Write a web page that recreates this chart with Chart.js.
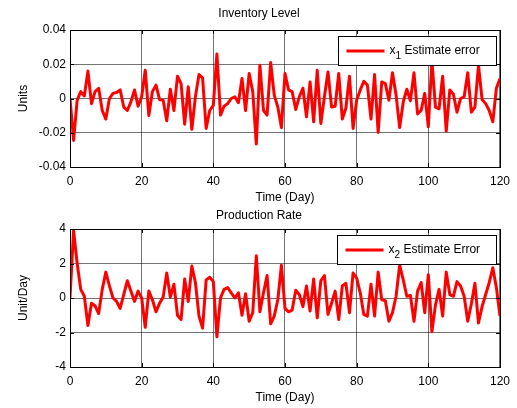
<!DOCTYPE html>
<html>
<head>
<meta charset="utf-8">
<script src="https://cdn.jsdelivr.net/npm/chart.js@4.4.1/dist/chart.umd.min.js"></script>
<style>
  html, body { margin: 0; padding: 0; background: #fff; }
  .panel { position: absolute; left: 0; width: 517px; }
  #top { top: 0; height: 205px; }
  #bottom { top: 199px; height: 209px; }
</style>
</head>
<body>
<div class="panel" id="top"><canvas id="invChart" width="517" height="205"></canvas></div>
<div class="panel" id="bottom"><canvas id="prodChart" width="517" height="209"></canvas></div>
<script>
// Days 0..120
const days = Array.from({ length: 121 }, (_, i) => i);

// x1 estimate error (inventory, units)
const invError = [
  0, -0.0245, -0.001, 0.004, 0.0015, 0.016, -0.003, 0.004, 0.006, -0.007,
  -0.012, 0, 0.003, 0.0035, 0.005, -0.005, -0.007, -0.002, 0.005, -0.0045,
  0.001, 0.0165, -0.010, 0.004, 0.0078, -0.0006, -0.001, -0.013, 0.0054, -0.007,
  0.013, 0.0087, -0.015, 0.0068, -0.018, 0.001, 0.014, 0.012, -0.0175, -0.007,
  -0.004, 0.026, -0.0097, -0.0045, -0.003, 0, 0.001, -0.0025, 0.0117, -0.007,
  0.0146, 0.004, -0.0266, 0.0194, -0.007, -0.0097, 0.021, 0.002, -0.005, -0.017,
  0.0146, 0.005, 0.004, -0.0064, 0.001, 0.006, -0.0107, 0.0097, -0.0136, 0.0165,
  -0.0146, 0.001, 0.0155, -0.005, -0.0045, 0.0146, -0.012, -0.0055, 0.013, -0.0175,
  -0.001, 0.005, 0.010, 0.0078, -0.012, 0.014, -0.0198, 0.0097, 0.0087, -0.001,
  0.015, 0.002, -0.017, -0.002, 0.0054, -0.0014, 0.015, -0.009, -0.007, 0.003,
  -0.0165, 0.022, -0.005, -0.006, 0.013, -0.019, 0.005, 0.0025, -0.008, 0,
  0.001, 0.015, -0.008, -0.005, 0.0194, -0.0006, -0.003, -0.007, -0.0136, 0.006,
  0.0117
];

// x2 estimate error (production rate, unit/day)
const prodError = [
  0, 3.9, 2.0, 0.5, 0.1, -1.6, -0.3, -0.45, -0.9, 0.5,
  1.5, 0.7, 0, -0.2, -0.6, 0.2, 1.0, 0.4, -0.2, 0.4,
  0, -1.7, 0.4, -0.1, -0.8, -0.3, 0.05, 1.45, 0.05, 0.8,
  -1.0, -1.25, 1.1, -0.2, 1.85, 0.9, -1.05, -1.75, 1.05, 1.2,
  0.95, -2.25, 0, 0.5, 0.6, 0.3, 0, 0.3, -1.0, 0.25,
  -1.35, -0.85, 2.45, -0.8, 0.3, 1.3, -1.5, -1.05, -0.1, 1.9,
  -0.6, -0.8, -0.7, 0.45, 0.2, -0.5, 0.7, -0.75, 1.1, -1.15,
  1.0, 1.3, -0.95, -0.3, 0.4, -1.25, 0.7, 0.85, -0.85, 1.45,
  1.15, 0.3, -0.95, -1.05, 0.8, -1.05, 1.5, -0.1, -0.15, -1.35,
  -0.85, 0.1, 1.9, 1.05, 0.1, 0.15, -1.35, 0.4, 0.9, -0.85,
  1.35, -1.95, -0.4, 0.5, -1.05, 1.5, 0.2, 0.1, 0.95, 0.7,
  0.1, -1.35, -0.35, 0.85, -1.45, -0.5, 0.2, 0.9, 1.75, 0.6,
  -1.05
];

const xTicks = [0, 20, 40, 60, 80, 100, 120];
const FONT = 'Arial, "Liberation Sans", Helvetica, sans-serif';

// box around the axes + legend inside the top-right corner
const boxPlugin = {
  id: 'boxLegend',
  afterDraw(chart, args, opts) {
    const { ctx, chartArea: a } = chart;
    ctx.save();
    ctx.strokeStyle = '#000';
    ctx.lineWidth = 1;
    ctx.strokeRect(Math.round(a.left) + 0.5, Math.round(a.top) + 0.5,
      Math.round(a.right - a.left), Math.round(a.bottom - a.top));

    // inward tick marks on all four sides
    const xs = chart.scales.x, ys = chart.scales.y;
    ctx.beginPath();
    xs.ticks.forEach(t => {
      const px = Math.round(xs.getPixelForValue(t.value)) + 0.5;
      ctx.moveTo(px, a.bottom); ctx.lineTo(px, a.bottom - 4);
      ctx.moveTo(px, a.top); ctx.lineTo(px, a.top + 4);
    });
    ys.ticks.forEach(t => {
      const py = Math.round(ys.getPixelForValue(t.value)) + 0.5;
      ctx.moveTo(a.left, py); ctx.lineTo(a.left + 4, py);
      ctx.moveTo(a.right, py); ctx.lineTo(a.right - 4, py);
    });
    ctx.stroke();

    // legend
    const ds = chart.data.datasets[0];
    const w = opts.width, h = 29;
    const lx = Math.round(a.right - 4 - w) + 0.5, ly = Math.round(a.top + 6) + 0.5;
    ctx.fillStyle = '#fff';
    ctx.fillRect(lx, ly, w, h);
    ctx.strokeRect(lx, ly, w, h);
    const midY = ly + h / 2;
    ctx.strokeStyle = ds.borderColor;
    ctx.lineWidth = 3;
    ctx.beginPath();
    ctx.moveTo(lx + 8, midY);
    ctx.lineTo(lx + 46, midY);
    ctx.stroke();

    ctx.fillStyle = '#000';
    ctx.textBaseline = 'middle';
    ctx.font = '12px ' + FONT;
    let tx = lx + 51;
    ctx.fillText(opts.parts[0], tx, midY);
    tx += ctx.measureText(opts.parts[0]).width;
    ctx.font = '10px ' + FONT;
    ctx.fillText(opts.parts[1], tx, midY + 5);
    tx += ctx.measureText(opts.parts[1]).width;
    ctx.font = '12px ' + FONT;
    ctx.fillText(opts.parts[2], tx, midY);
    ctx.restore();
  }
};

function makeChart(id, title, yTitle, values, yMin, yMax, yStep, fmt, legend, lay) {
  const gridLine = {
    color: 'rgba(0,0,0,0.55)',
    borderDash: [1, 2],
    drawTicks: false
  };
  return new Chart(document.getElementById(id), {
    type: 'line',
    data: {
      datasets: [{
        label: legend.parts.join(''),
        data: days.map((d, i) => ({ x: d, y: values[i] })),
        borderColor: '#ff0000',
        borderWidth: 3,
        borderJoinStyle: 'round',
        pointRadius: 0,
        tension: 0,
        fill: false
      }]
    },
    options: {
      responsive: false,
      animation: false,
      layout: { padding: { left: 16, right: 15, top: 2, bottom: lay.padBottom } },
      plugins: {
        legend: { display: false },
        tooltip: { enabled: false },
        title: {
          display: true,
          text: title,
          color: '#000',
          font: { family: FONT, size: 12, weight: 'normal' },
          padding: { top: lay.titleTop, bottom: 13.6 - lay.titleTop }
        },
        boxLegend: legend
      },
      scales: {
        x: {
          type: 'linear',
          min: 0, max: 120,
          afterBuildTicks: s => { s.ticks = xTicks.map(v => ({ value: v })); },
          ticks: { color: '#000', font: { family: FONT, size: 12 }, padding: 7, maxRotation: 0 },
          grid: gridLine,
          border: { display: false },
          title: {
            display: true, text: 'Time (Day)', color: '#000',
            font: { family: FONT, size: 12 }, padding: { top: 0, bottom: 0 }
          },
          afterFit: s => { s.height = lay.xHeight; }
        },
        y: {
          min: yMin, max: yMax,
          ticks: { stepSize: yStep, color: '#000', font: { family: FONT, size: 12 }, padding: 4, callback: fmt },
          grid: gridLine,
          border: { display: false },
          title: {
            display: true, text: yTitle, color: '#000',
            font: { family: FONT, size: 12 }, padding: { top: 0, bottom: 0 }
          },
          afterFit: s => { s.width = 54; }
        }
      }
    },
    plugins: [boxPlugin]
  });
}

makeChart('invChart', 'Inventory Level', 'Units', invError, -0.04, 0.04, 0.02,
  v => (Math.abs(v) < 1e-9 ? '0' : v.toFixed(2)),
  { parts: ['x', '1', ' Estimate error'], width: 158 },
  { xHeight: 38, padBottom: 0, titleTop: 4 });

makeChart('prodChart', 'Production Rate', 'Unit/Day', prodError, -4, 4, 2,
  v => String(v),
  { parts: ['x', '2', ' Estimate Error'], width: 159 },
  { xHeight: 38, padBottom: 3, titleTop: 7 });
</script>
</body>
</html>
